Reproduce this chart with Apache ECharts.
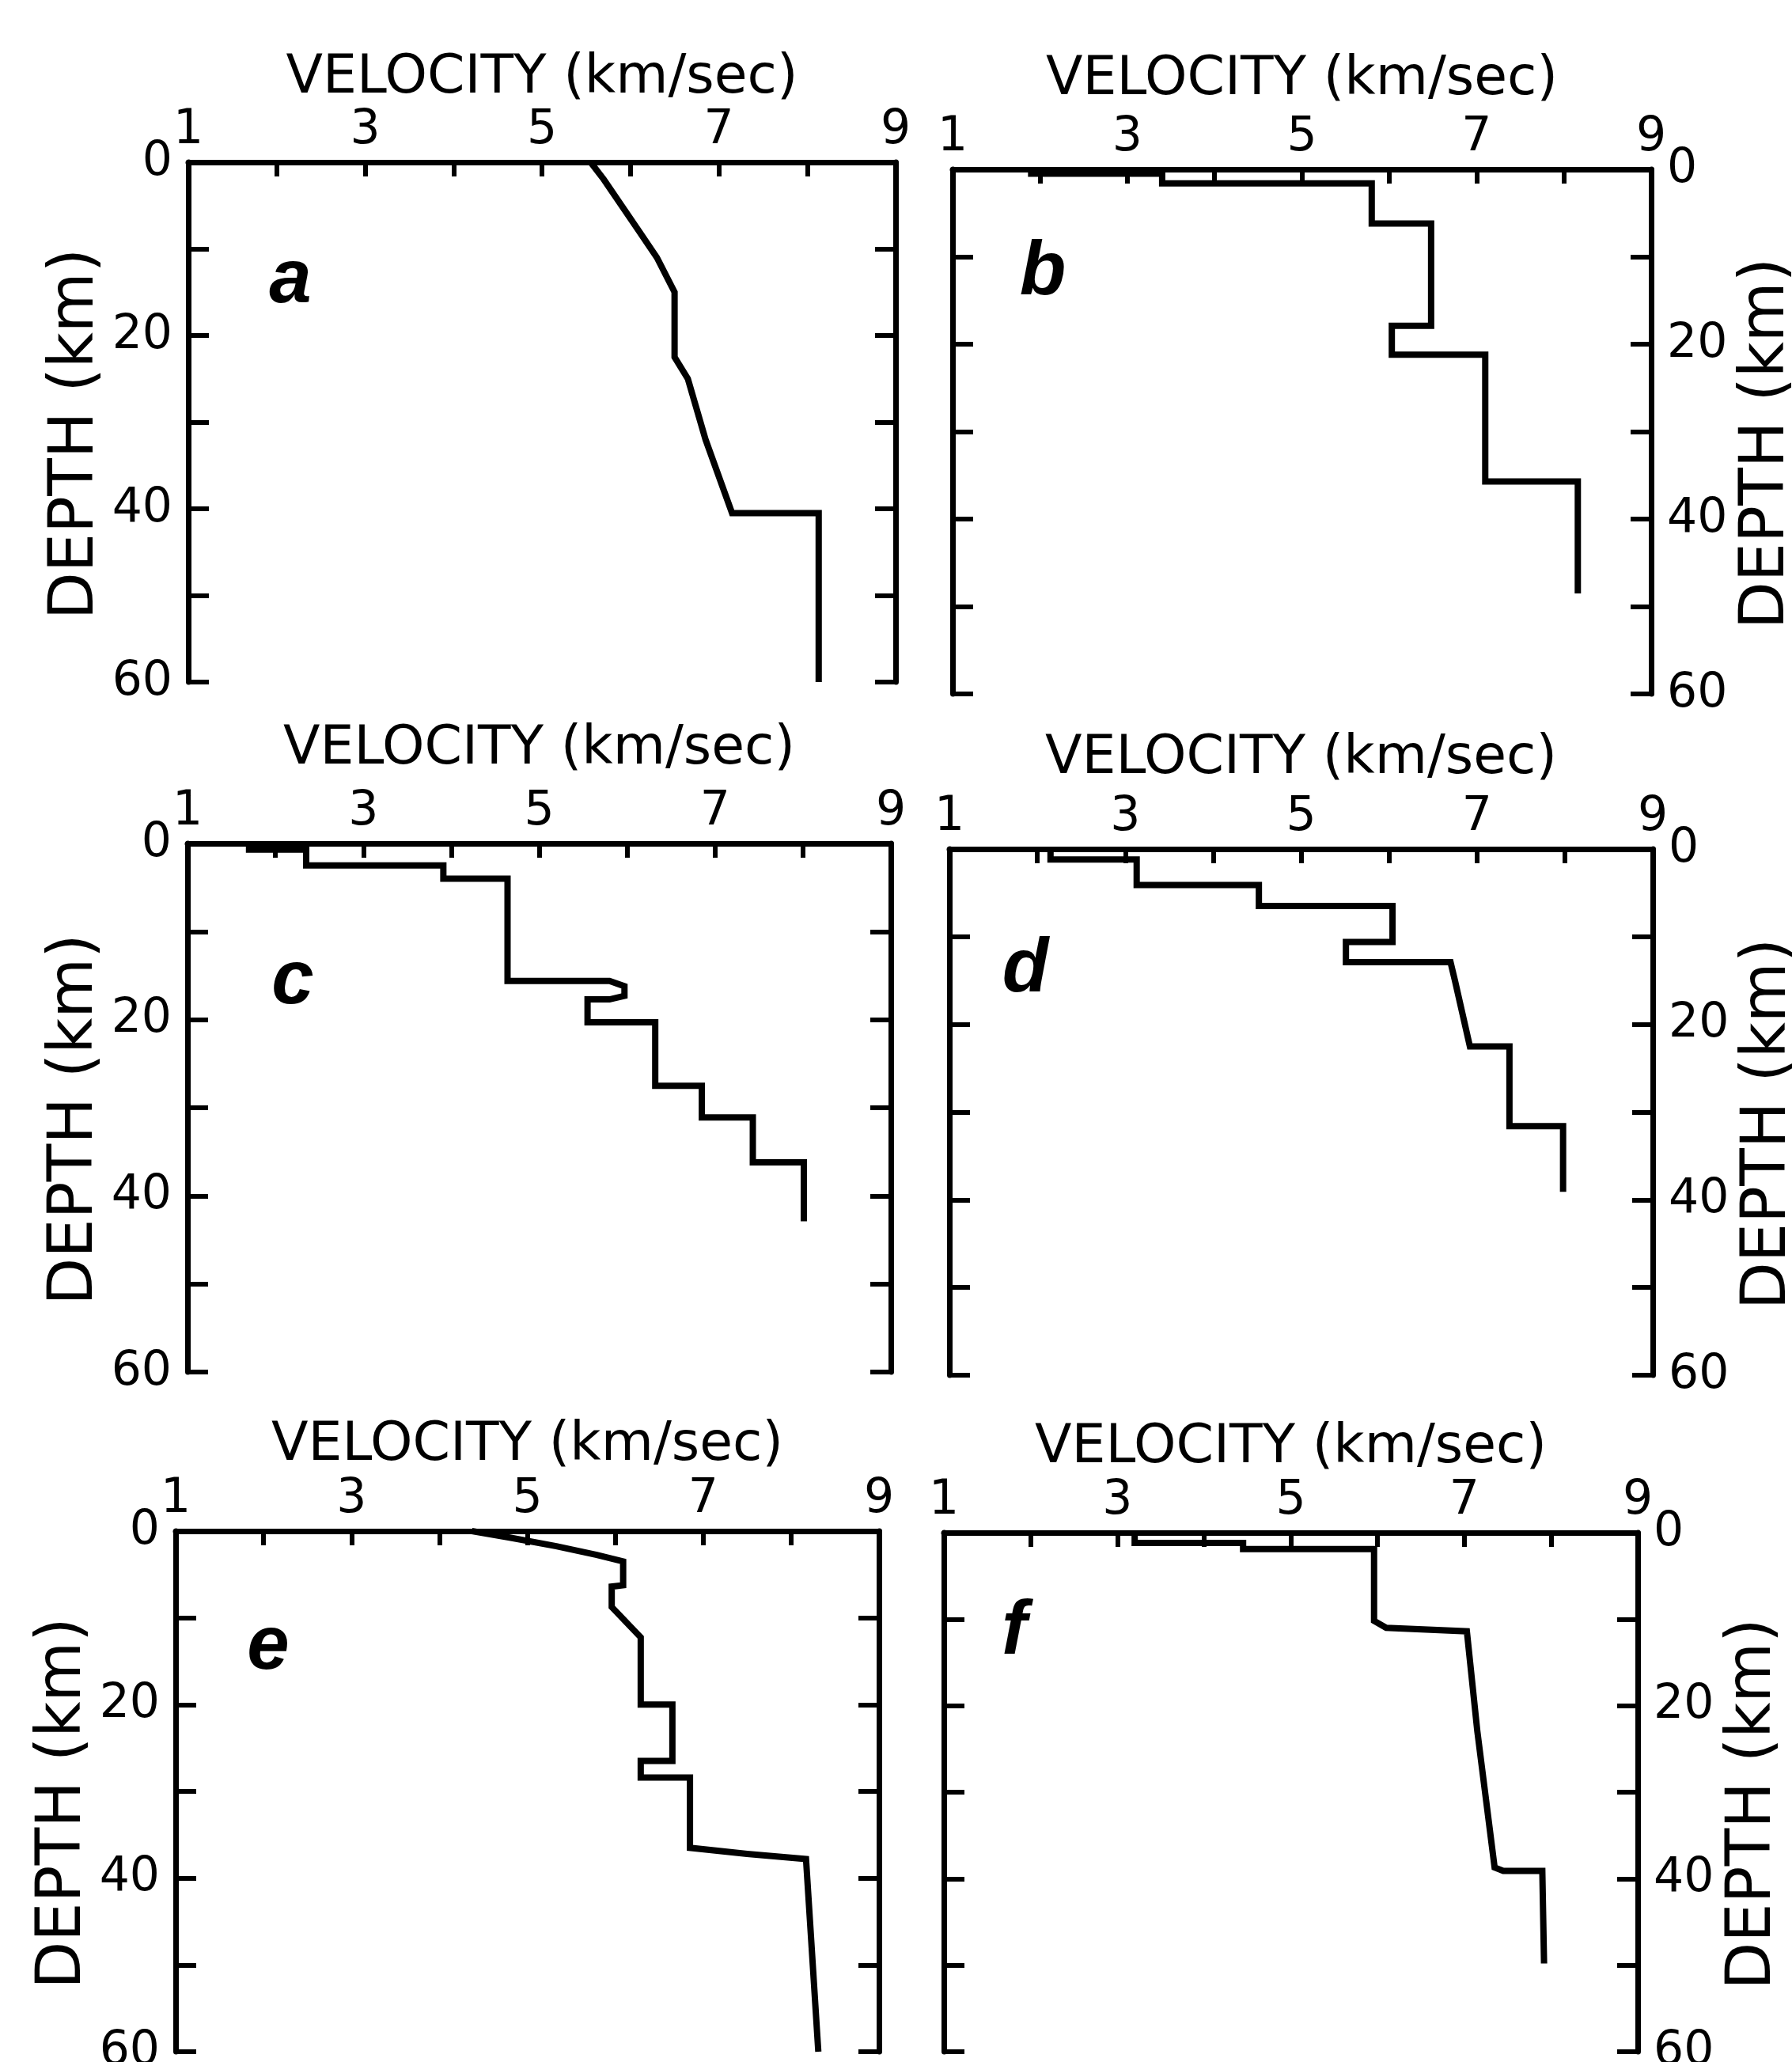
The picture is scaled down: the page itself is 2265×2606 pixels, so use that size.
<!DOCTYPE html>
<html>
<head>
<meta charset="utf-8">
<style>
  html, body { margin: 0; padding: 0; background: #fff; }
  #chart { width: 2265px; height: 2606px; }
</style>
<script src="https://cdn.jsdelivr.net/npm/echarts@6/dist/echarts.min.js"></script>
</head>
<body>
<div id="chart"></div>
<script>
// ---- Data: [velocity km/s, depth km] along each profile ----
const profileA = [[5.55,0],[5.7,2],[6.1,8],[6.3,11],[6.5,15],[6.5,22.5],[6.65,25],[6.85,32],[7.15,40.5],[8.13,40.5],[8.13,60]];
const profileB = [[1.9,0],[1.9,0.5],[3.4,0.5],[3.4,1.6],[5.8,1.6],[5.8,6.2],[6.48,6.2],[6.48,17.9],[6.03,17.9],[6.03,21.2],[7.1,21.2],[7.1,35.7],[8.16,35.7],[8.16,48.5]];
const profileC = [[1.7,0],[1.7,0.7],[2.35,0.7],[2.35,2.5],[3.91,2.5],[3.91,4.0],[4.64,4.0],[4.64,15.6],[5.8,15.6],[5.97,16.2],[5.97,17.3],[5.8,17.7],[5.55,17.7],[5.55,20.3],[6.32,20.3],[6.32,27.5],[6.85,27.5],[6.85,31.1],[7.43,31.1],[7.43,36.2],[8.01,36.2],[8.01,42.9]];
const profileD = [[2.15,0],[2.15,1.2],[3.13,1.2],[3.13,4.1],[4.52,4.1],[4.52,6.5],[6.04,6.5],[6.04,10.6],[5.51,10.6],[5.51,12.9],[6.7,12.9],[6.75,15],[6.92,22.5],[7.37,22.5],[7.37,31.6],[7.98,31.6],[7.98,39.1]];
const profileE = [[4.37,0],[4.8,0.75],[5.33,1.75],[5.79,2.75],[6.09,3.5],[6.09,6.25],[5.96,6.4],[5.96,8.75],[6.29,12.25],[6.29,20],[6.65,20],[6.65,26.5],[6.29,26.5],[6.29,28.4],[6.85,28.4],[6.85,36.5],[7.5,37.2],[8.17,37.8],[8.31,60]];
const profileF = [[3.2,0.3],[3.2,1.2],[4.45,1.2],[4.45,1.9],[5.96,1.9],[5.96,10.2],[6.1,11.0],[7.03,11.4],[7.15,22.9],[7.35,38.7],[7.45,39.1],[7.9,39.1],[7.92,49.8]];

const xTickLabels = ['1','3','5','7','9'];
const yTickLabels = ['0','20','40','60'];
const panelLetters = ['a','b','c','d','e','f'];
const xTitle = 'VELOCITY (km/sec)';
const yTitle = 'DEPTH (km)';

// ---- Layout (pixels) ----
const panels = [
  { data: profileA, side: 'left',  grid: { left: 238,  top: 205,  width: 894, height: 657 }, letter: [367, 356],  xGap: 72 },
  { data: profileB, side: 'right', grid: { left: 1204, top: 214,  width: 883, height: 663 }, letter: [1318, 346], xGap: 79 },
  { data: profileC, side: 'left',  grid: { left: 237,  top: 1066, width: 889, height: 668 }, letter: [370, 1242], xGap: 85 },
  { data: profileD, side: 'right', grid: { left: 1200, top: 1073, width: 889, height: 665 }, letter: [1296, 1227], xGap: 80 },
  { data: profileE, side: 'left',  grid: { left: 222,  top: 1935, width: 889, height: 658 }, letter: [339, 2083], xGap: 74 },
  { data: profileF, side: 'right', grid: { left: 1193, top: 1937, width: 877, height: 656 }, letter: [1282, 2064], xGap: 73 }
];

const FONT = 'DejaVu Sans';
const BLACK = '#000';
const frameW = 7;
const traceW = 8;

const grids = [], xAxes = [], yAxes = [], series = [], graphics = [];

function yAxisDef(i, pos, withLabels) {
  return {
    gridIndex: i, type: 'value', inverse: true, min: 0, max: 60, interval: 10,
    position: pos,
    axisLine: { show: true, onZero: false, lineStyle: { color: BLACK, width: frameW } },
    axisTick: { show: true, inside: true, length: 26, lineStyle: { color: BLACK, width: 6 } },
    axisLabel: {
      show: withLabels, margin: 20, fontSize: 60, color: BLACK, fontFamily: FONT,
      formatter: v => yTickLabels.includes(String(v)) ? String(v) : ''
    },
    splitLine: { show: false },
    name: withLabels ? yTitle : '',
    nameLocation: 'middle', nameGap: pos === 'left' ? 102 : 108, nameRotate: 90,
    nameTextStyle: { fontSize: 78, color: BLACK, fontFamily: FONT, padding: [0, 30, 0, 0] }
  };
}

panels.forEach((p, i) => {
  grids.push(Object.assign({ containLabel: false, outerBoundsMode: 'none', show: false }, p.grid));
  xAxes.push({
    gridIndex: i, type: 'value', position: 'top', min: 1, max: 9, interval: 1,
    name: xTitle, nameLocation: 'middle', nameGap: p.xGap,
    nameTextStyle: { fontSize: 68, color: BLACK, fontFamily: FONT },
    axisLine: { show: true, onZero: false, lineStyle: { color: BLACK, width: frameW } },
    axisTick: { show: true, inside: true, length: 18, lineStyle: { color: BLACK, width: 6 } },
    axisLabel: {
      show: true, interval: 0, margin: 10, fontSize: 60, color: BLACK, fontFamily: FONT,
      formatter: v => xTickLabels.includes(String(v)) ? String(v) : ''
    },
    splitLine: { show: false }
  });
  yAxes.push(yAxisDef(i, 'left', p.side === 'left'));
  yAxes.push(yAxisDef(i, 'right', p.side === 'right'));
  series.push({
    type: 'line', xAxisIndex: i, yAxisIndex: 2 * i,
    data: p.data, showSymbol: false, symbol: 'none', smooth: false, clip: false,
    lineStyle: { color: BLACK, width: traceW, join: 'miter' },
    animation: false
  });
  graphics.push({
    type: 'text', x: p.letter[0], y: p.letter[1],
    style: {
      text: panelLetters[i], fill: BLACK, fontSize: 96, fontWeight: 'bold', fontStyle: 'italic',
      fontFamily: 'Liberation Sans', align: 'center', verticalAlign: 'middle'
    }
  });
});

const chart = echarts.init(document.getElementById('chart'), null, { renderer: 'canvas' });
chart.setOption({
  backgroundColor: '#fff',
  animation: false,
  grid: grids,
  xAxis: xAxes,
  yAxis: yAxes,
  series: series,
  graphic: graphics
});
</script>
</body>
</html>
